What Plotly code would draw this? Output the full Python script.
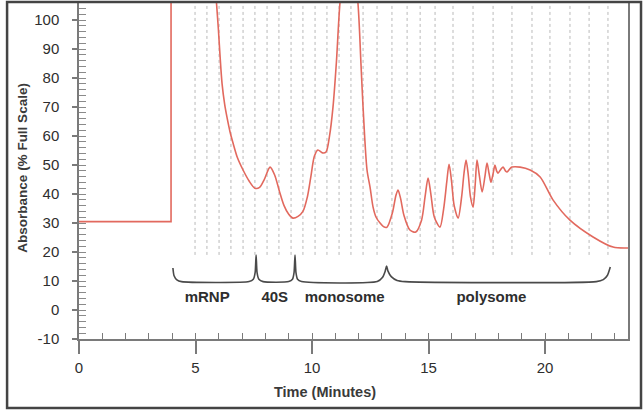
import plotly.graph_objects as go

# ---- data ----
# baseline and sample injection step (time in minutes, absorbance %FS)
base_t = [0, 3.95, 3.95]
base_a = [30.5, 30.5, 140]

# gradient profile after the injection spike
prof_t = [5.80, 5.90, 5.98, 6.05, 6.14, 6.25, 6.35, 6.48, 6.61, 6.80, 7.04, 7.30, 7.55,
          7.75, 7.95, 8.20, 8.40, 8.60, 8.80, 9.00, 9.18, 9.40, 9.61, 9.80, 9.95, 10.10,
          10.25, 10.45, 10.60, 10.75, 10.90, 11.05, 11.20, 11.58, 11.97, 12.10, 12.19,
          12.36, 12.49, 12.62, 12.75, 12.92, 13.10, 13.22, 13.45, 13.60, 13.69, 13.80,
          13.95, 14.20, 14.45, 14.70, 14.85, 14.98, 15.10, 15.25, 15.49, 15.65, 15.78,
          15.88, 15.98, 16.10, 16.27, 16.42, 16.52, 16.61, 16.70, 16.80, 16.91, 17.00,
          17.08, 17.17, 17.30, 17.42, 17.51, 17.60, 17.68, 17.77, 17.85, 17.92, 17.98,
          18.10, 18.20, 18.30, 18.37, 18.48, 18.58, 18.93, 19.36, 19.79, 20.34, 21.07,
          22.06, 22.92, 23.56]
prof_a = [118, 106, 97, 88, 78, 71, 66.5, 61.5, 57.6, 52.5, 48.3, 44.5, 42.0,
          42.3, 45.0, 49.3, 46.5, 41.0, 36.0, 33.0, 31.7, 32.3, 34.0, 39.0, 46.0, 53.0,
          55.2, 54.2, 54.5, 60.0, 70.0, 86.0, 106, 135, 106, 85.0, 70.0,
          48.3, 42.4, 35.5, 32.0, 30.0, 28.6, 28.6, 33.5, 39.5, 41.4, 38.5,
          32.5, 27.6, 26.9, 31.0, 39.0, 45.5, 40.0, 32.0, 28.6, 35.0, 44.0,
          50.3, 45.0, 36.0, 31.7, 39.0, 47.0, 51.7, 47.0, 39.0, 35.5, 43.0,
          51.7, 47.0, 40.7, 46.0, 50.7, 47.0, 44.1, 47.0, 50.0, 48.0, 47.2,
          48.5, 49.3, 48.0, 47.6, 48.6, 49.3, 49.3, 48.3, 45.9, 38.0, 31.0,
          25.2, 21.7, 21.4]

# fraction collector marks (minutes)
fractions = [4.98, 5.49, 6.01, 6.52, 7.04, 7.55, 8.07, 8.58, 9.10, 9.61, 10.13, 10.64,
             11.16, 11.67, 12.19, 12.79, 13.43, 14.08, 14.64, 15.28, 16.05, 16.91,
             17.77, 18.58, 19.44, 20.21, 21.07, 21.89, 22.70]
frac_bottom, frac_top = 19, 106

# bracket path marking the gradient regions
brk_t = [4.03, 4.08, 4.20, 4.40, 7.30, 7.48, 7.56, 7.60, 7.64, 7.72, 7.90, 9.00, 9.16,
         9.23, 9.27, 9.31, 9.38, 9.55, 12.80, 13.02, 13.14, 13.20, 13.26, 13.40,
         13.65, 14.00, 22.20, 22.50, 22.68, 22.80]
brk_a = [14.5, 11.8, 10.4, 9.8, 9.8, 10.6, 13.0, 19.0, 13.0, 10.6, 9.8, 9.8, 10.6,
         13.0, 19.0, 13.0, 10.6, 9.8, 9.8, 11.2, 13.4, 15.2, 13.4, 11.5,
         10.2, 9.8, 9.8, 10.5, 12.0, 14.8]

labels = ["mRNP", "40S", "monosome", "polysome"]
label_t = [5.5, 8.4, 11.4, 17.7]
label_a = [4.1, 4.1, 4.1, 4.1]

x_ticks = [0, 5, 10, 15, 20]
y_ticks = [-10, 0, 10, 20, 30, 40, 50, 60, 70, 80, 90, 100]
y_ticktext = ["-10", "0", "10", "20", "30", "40", "50", "60", "70", "80", "90", "100"]

# ---- figure ----
XR = [0, 23.56]
YR = [-10, 105.9]
RED = "#e2695e"
TXT = "#2e2e2e"
FONT = "Liberation Sans, Arial, sans-serif"

fig = go.Figure()

fx, fy = [], []
for t in fractions:
    fx += [t, t, None]
    fy += [frac_bottom, frac_top, None]
fig.add_trace(go.Scatter(x=fx, y=fy, mode="lines",
                         line=dict(color="#b9b9b9", width=1, dash="dot"),
                         hoverinfo="skip", showlegend=False))

fig.add_trace(go.Scatter(x=base_t, y=base_a, mode="lines",
                         line=dict(color=RED, width=1.6), showlegend=False))
fig.add_trace(go.Scatter(x=prof_t, y=prof_a, mode="lines",
                         line=dict(color=RED, width=1.6, shape="spline", smoothing=0.8),
                         showlegend=False))

fig.add_trace(go.Scatter(x=brk_t, y=brk_a, mode="lines",
                         line=dict(color="#4a4a4a", width=1.6, shape="spline", smoothing=0.6),
                         showlegend=False))

fig.add_trace(go.Scatter(x=label_t, y=label_a, mode="text", text=labels,
                         textfont=dict(family=FONT, size=15, color=TXT, weight="bold"),
                         showlegend=False))

# invisible trace for the overlay (inside minor tick) axes
fig.add_trace(go.Scatter(x=[XR[0]], y=[YR[0]], xaxis="x2", yaxis="y2", mode="markers",
                         marker=dict(opacity=0), hoverinfo="skip", showlegend=False))

fig.update_layout(
    width=643, height=413,
    margin=dict(l=79, r=15, t=3, b=74),
    paper_bgcolor="white", plot_bgcolor="white",
    font=dict(family=FONT, color=TXT),
    xaxis=dict(range=XR, tickvals=x_ticks, ticks="outside", ticklen=13, tickwidth=1.5,
               tickcolor="#7a7a7a", showline=True, linecolor="#7a7a7a", linewidth=1.5,
               showgrid=False, zeroline=False, tickfont=dict(size=15, color=TXT),
               ticklabelstandoff=1),
    yaxis=dict(range=YR, tickvals=y_ticks, ticktext=y_ticktext, ticks="outside",
               ticklen=5, tickwidth=1.5,
               tickcolor="#7a7a7a", showline=True, linecolor="#7a7a7a", linewidth=1.5,
               mirror=True, showgrid=False, zeroline=False,
               tickfont=dict(size=15, color=TXT), ticklabelstandoff=10),
    xaxis2=dict(range=XR, overlaying="x", anchor="y2", side="bottom", tick0=0, dtick=1,
                ticks="inside", ticklen=6, tickwidth=1, tickcolor="#7a7a7a",
                showticklabels=False, showgrid=False, zeroline=False, showline=False),
    yaxis2=dict(range=YR, overlaying="y", anchor="x2", side="left", tick0=0, dtick=2,
                ticks="inside", ticklen=7, tickwidth=1, tickcolor="#8a8a8a",
                showticklabels=False, showgrid=False, zeroline=False, showline=False),
    annotations=[
        dict(text="<b>Absorbance (% Full Scale)</b>", xref="paper", yref="paper",
             x=-0.102, y=0.51, xanchor="center", yanchor="middle", textangle=-90,
             showarrow=False, font=dict(size=13.5, color="#3a3a3a")),
        dict(text="<b>Time (Minutes)</b>", xref="paper", yref="paper",
             x=0.448, y=-0.158, xanchor="center", yanchor="middle",
             showarrow=False, font=dict(size=14.5, color="#3a3a3a")),
    ],
    shapes=[
        dict(type="rect", xref="paper", yref="paper", x0=-0.131, x1=1.0237,
             y0=-0.205, y1=1.003, line=dict(color="#444444", width=2.5)),
    ],
)

fig.write_html("out.html")
